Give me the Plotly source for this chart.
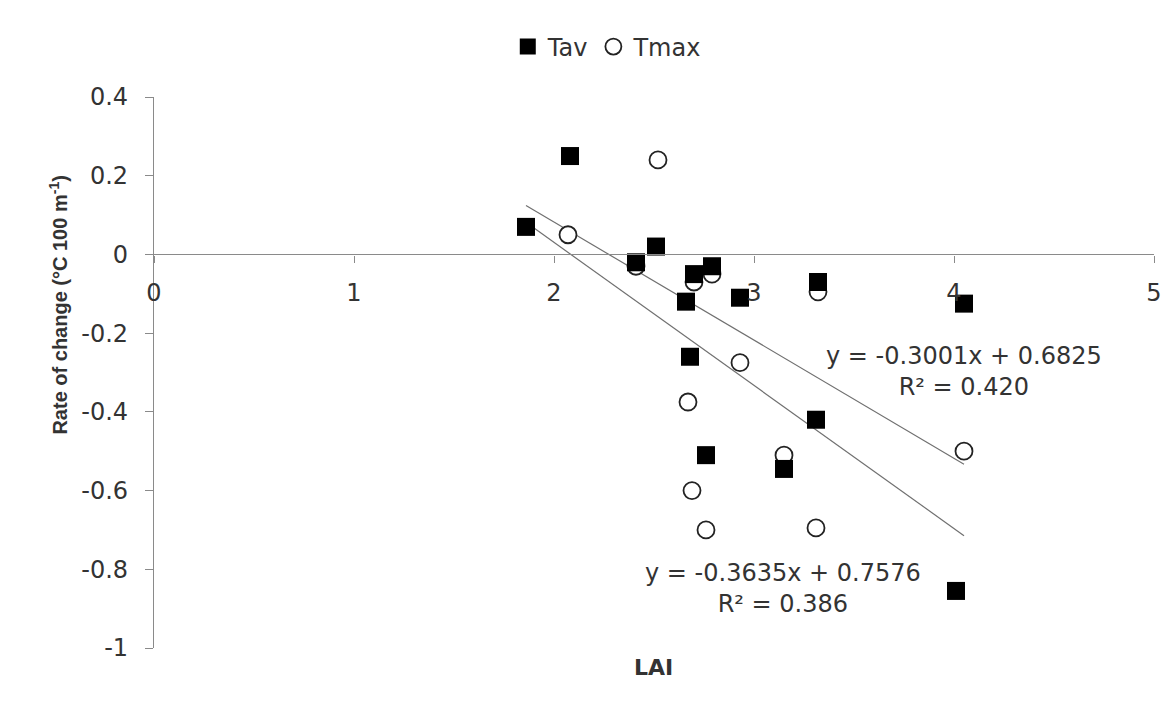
import plotly.graph_objects as go

# Data
tav_lai = [1.86, 2.08, 2.41, 2.51, 2.70, 2.79, 2.66, 2.93, 2.68, 2.76, 3.15, 3.31, 3.32, 4.05, 4.01]
tav_rate = [0.07, 0.25, -0.02, 0.02, -0.05, -0.03, -0.12, -0.11, -0.26, -0.51, -0.545, -0.42, -0.07, -0.125, -0.855]

tmax_lai = [2.07, 2.52, 2.41, 2.70, 2.79, 2.93, 2.67, 2.69, 2.76, 3.15, 3.32, 3.31, 4.05]
tmax_rate = [0.05, 0.24, -0.03, -0.07, -0.05, -0.275, -0.375, -0.60, -0.70, -0.51, -0.095, -0.695, -0.50]

# Trend line equations shown on the chart
trend_upper = {"slope": -0.3001, "intercept": 0.6825, "r2": "0.420"}
trend_lower = {"slope": -0.3635, "intercept": 0.7576, "r2": "0.386"}
trend_x = [1.86, 4.05]

x_ticks = [0, 1, 2, 3, 4, 5]
y_ticks = [0.4, 0.2, 0, -0.2, -0.4, -0.6, -0.8, -1]
y_tick_labels = ["0.4", "0.2", "0", "-0.2", "-0.4", "-0.6", "-0.8", "-1"]

W, H = 1174, 707
L, R, T, B = 154, 14, 97, 59
pw, ph = W - L - R, H - T - B

def px_x(p):
    return (p - L) / pw

def px_y(p):
    return (H - B - p) / ph

wide_font = "DejaVu Sans, Verdana, sans-serif"
arial = "Liberation Sans, Arial, sans-serif"
text_color = "#333333"
axis_color = "#8a8a8a"

fig = go.Figure()

for tr in (trend_upper, trend_lower):
    fig.add_trace(go.Scatter(
        x=trend_x,
        y=[tr["slope"] * v + tr["intercept"] for v in trend_x],
        mode="lines", line=dict(color="#707070", width=1.2),
        showlegend=False, hoverinfo="skip"))

fig.add_trace(go.Scatter(
    x=tmax_lai, y=tmax_rate, mode="markers", name="Tmax",
    marker=dict(symbol="circle", size=17, color="white",
                line=dict(color="#222222", width=1.8))))
fig.add_trace(go.Scatter(
    x=tav_lai, y=tav_rate, mode="markers", name="Tav",
    marker=dict(symbol="square", size=18, color="black",
                line=dict(color="black", width=0))))

fig.update_layout(
    width=W, height=H,
    margin=dict(l=L, r=R, t=T, b=B),
    paper_bgcolor="white", plot_bgcolor="white",
    font=dict(family=wide_font, size=24, color=text_color),
    legend=dict(orientation="h", traceorder="reversed",
                x=px_x(610), xanchor="center", y=px_y(47), yanchor="middle",
                font=dict(family=wide_font, size=24, color=text_color), itemwidth=30,
                bgcolor="rgba(0,0,0,0)"),
    xaxis=dict(range=[0, 5], tickvals=x_ticks, showgrid=False, zeroline=False,
               showline=True, linecolor=axis_color, linewidth=1.2,
               ticks="outside", ticklen=7, tickcolor=axis_color,
               anchor="free", position=1 / 1.4, ticklabelstandoff=10,
               tickfont=dict(family=wide_font, size=24, color=text_color)),
    yaxis=dict(range=[-1, 0.4], tickvals=y_ticks, ticktext=y_tick_labels,
               showgrid=False, zeroline=False,
               showline=True, linecolor=axis_color, linewidth=1.2,
               ticks="outside", ticklen=8, tickcolor=axis_color,
               ticklabelstandoff=12,
               tickfont=dict(family=wide_font, size=24, color=text_color)),
    annotations=[
        dict(text="<b>LAI</b>", x=px_x(656), y=px_y(667), xref="paper", yref="paper",
             xanchor="center", yanchor="middle",
             showarrow=False, font=dict(family=wide_font, size=22, color=text_color)),
        dict(text="<b>Rate of change (°C 100 m<sup>-1</sup>)</b>", textangle=-90,
             x=px_x(57), y=px_y(305), xref="paper", yref="paper",
             xanchor="center", yanchor="middle",
             showarrow=False, font=dict(family=arial, size=20, color=text_color)),
        dict(text=f"y = {trend_upper['slope']:.4f}x + {trend_upper['intercept']:.4f}<br>R² = {trend_upper['r2']}",
             x=px_x(969), y=px_y(371), xref="paper", yref="paper",
             xanchor="center", yanchor="middle",
             showarrow=False, align="center", font=dict(family=wide_font, size=24, color=text_color)),
        dict(text=f"y = {trend_lower['slope']:.4f}x + {trend_lower['intercept']:.4f}<br>R² = {trend_lower['r2']}",
             x=px_x(787), y=px_y(588), xref="paper", yref="paper",
             xanchor="center", yanchor="middle",
             showarrow=False, align="center", font=dict(family=wide_font, size=24, color=text_color)),
    ],
)

fig.write_html("out.html")
